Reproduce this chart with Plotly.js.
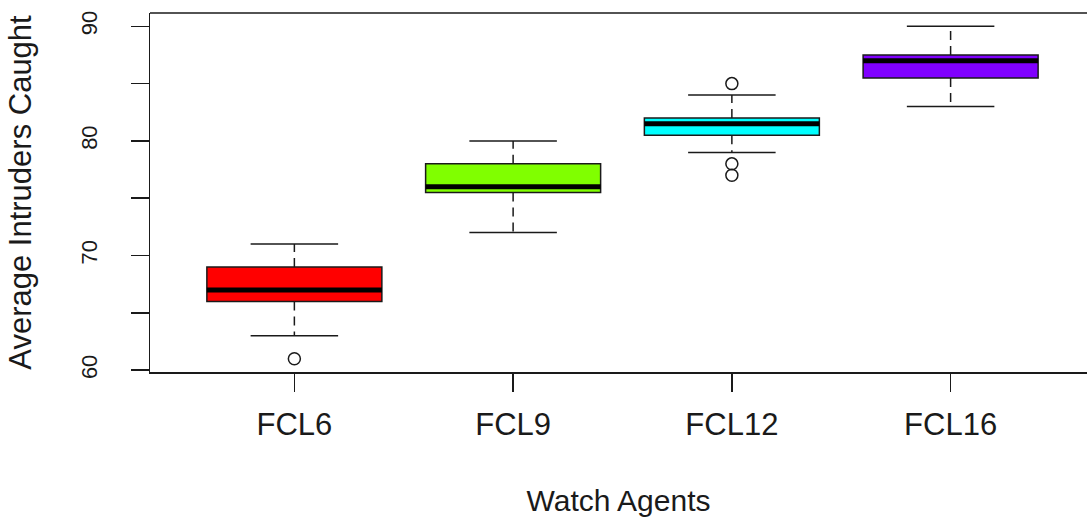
<!DOCTYPE html>
<html>
<head>
<meta charset="utf-8">
<script src="https://cdn.plot.ly/plotly-3.0.1.min.js"></script>
<style>
html, body { margin:0; padding:0; overflow:hidden; background:#fff; }
#chart { width:1087px; height:517px; }
</style>
</head>
<body>
<div id="chart"></div>
<script>
const categories = ["FCL6", "FCL9", "FCL12", "FCL16"];
const q1Values = [66, 75.5, 80.5, 85.5];
const medianValues = [67, 76, 81.5, 87];
const q3Values = [69, 78, 82, 87.5];
const lowerWhisker = [63, 72, 79, 83];
const upperWhisker = [71, 80, 84, 90];
const outlierValues = [[61], [], [85, 78, 77], []];
const boxColors = ["#FF0000", "#80FF00", "#00FFFF", "#8000FF"];
const yTickValues = [60, 65, 70, 75, 80, 85, 90];
const yTickLabels = ["60", "", "70", "", "80", "", "90"];

const pos = categories.map((c, i) => i + 1);
const boxHalf = 0.4, capHalf = 0.2;
const lineColor = "#1a1a1a";

const traces = [];
categories.forEach((c, i) => {
  traces.push({
    type: "box",
    x: [pos[i]],
    q1: [q1Values[i]],
    median: [medianValues[i]],
    q3: [q3Values[i]],
    lowerfence: [q1Values[i]],
    upperfence: [q3Values[i]],
    width: 2 * boxHalf,
    whiskerwidth: 0,
    fillcolor: boxColors[i],
    line: { color: lineColor, width: 1.5 },
    hoverinfo: "skip",
    showlegend: false
  });
});

// dashed whiskers
const wx = [], wy = [];
pos.forEach((p, i) => {
  wx.push(p, p, null, p, p, null);
  wy.push(q3Values[i], upperWhisker[i], null, q1Values[i], lowerWhisker[i], null);
});
traces.push({ type: "scatter", mode: "lines", x: wx, y: wy,
  line: { color: lineColor, width: 1.5, dash: "9px,6px" }, hoverinfo: "skip", showlegend: false });

// caps
const cx = [], cy = [];
pos.forEach((p, i) => {
  cx.push(p - capHalf, p + capHalf, null, p - capHalf, p + capHalf, null);
  cy.push(upperWhisker[i], upperWhisker[i], null, lowerWhisker[i], lowerWhisker[i], null);
});
traces.push({ type: "scatter", mode: "lines", x: cx, y: cy,
  line: { color: lineColor, width: 1.5 }, hoverinfo: "skip", showlegend: false });

// medians
const mx = [], my = [];
pos.forEach((p, i) => {
  mx.push(p - boxHalf, p + boxHalf, null);
  my.push(medianValues[i], medianValues[i], null);
});
traces.push({ type: "scatter", mode: "lines", x: mx, y: my,
  line: { color: "#000", width: 5 }, hoverinfo: "skip", showlegend: false });

// outliers
const ox = [], oy = [];
outlierValues.forEach((arr, i) => arr.forEach(v => { ox.push(pos[i]); oy.push(v); }));
traces.push({ type: "scatter", mode: "markers", x: ox, y: oy,
  marker: { symbol: "circle-open", size: 12, color: lineColor, line: { width: 1.5, color: lineColor } },
  hoverinfo: "skip", showlegend: false });

const font = "Liberation Sans, Arial, sans-serif";
const layout = {
  width: 1087, height: 517,
  margin: { l: 150, r: 0, t: 13, b: 145, pad: 0 },
  paper_bgcolor: "#fff", plot_bgcolor: "#fff",
  font: { family: font, color: "#1a1a1a" },
  boxmode: "overlay",
  xaxis: {
    range: [0.34, 4.6235], tickvals: pos, ticktext: categories,
    showgrid: false, zeroline: false, showline: true, linecolor: lineColor, linewidth: 1.5,
    ticks: "outside", ticklen: 18, tickwidth: 1.5, tickcolor: lineColor,
    tickfont: { size: 31, family: font, color: "#1a1a1a" }, ticklabelstandoff: 6,
    automargin: true,
    title: { text: "Watch Agents", font: { size: 30, family: font, color: "#1a1a1a" }, standoff: 49 }
  },
  yaxis: {
    range: [59.84, 91.16], tickvals: yTickValues, ticktext: yTickLabels,
    showgrid: false, zeroline: false, showline: true, linecolor: lineColor, linewidth: 1.5,
    ticks: "outside", ticklen: 18, tickwidth: 1.5, tickcolor: lineColor, tickangle: -90,
    tickfont: { size: 22, family: font, color: "#1a1a1a" }, ticklabelstandoff: 25,
    automargin: true,
    title: { text: "Average Intruders Caught", font: { size: 31, family: font, color: "#1a1a1a" }, standoff: 36 }
  },
  shapes: [{ type: "line", xref: "paper", yref: "paper", x0: 0, x1: 1, y0: 1, y1: 1,
    line: { color: lineColor, width: 1.5 } }]
};
Plotly.newPlot("chart", traces, layout, { staticPlot: true, displayModeBar: false });
</script>
</body>
</html>
